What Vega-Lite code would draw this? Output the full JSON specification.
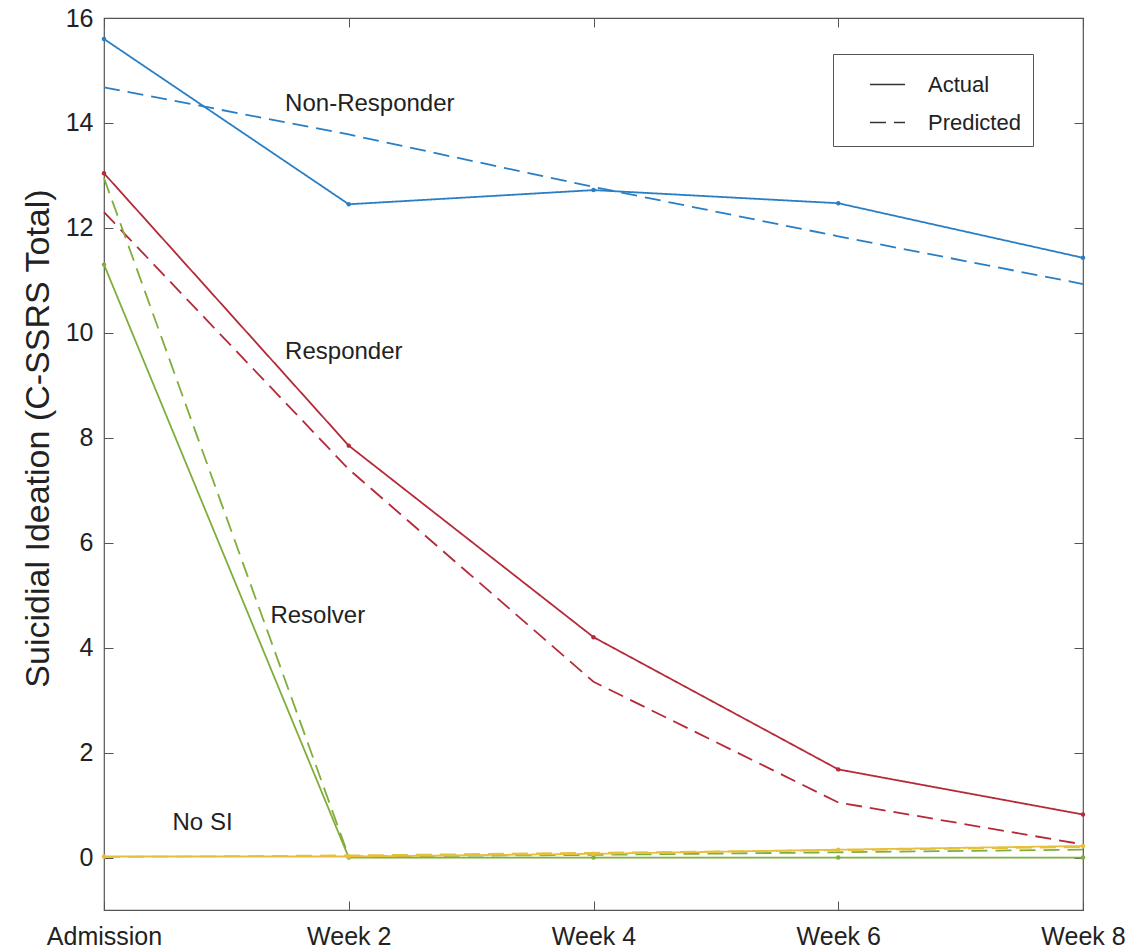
{
  "$schema": "https://vega.github.io/schema/vega-lite/v6.json",
  "width": 979,
  "height": 892,
  "autosize": {"type": "none"},
  "padding": {"left": 104, "top": 18, "right": 62, "bottom": 41},
  "background": "white",
  "config": {
    "font": "Liberation Sans",
    "view": {"stroke": "#555", "strokeWidth": 1.2},
    "axis": {"grid": false, "domain": false, "tickColor": "#555", "labelColor": "#222", "titleColor": "#222", "labelFont": "Liberation Sans", "titleFont": "Liberation Sans", "titleFontWeight": "normal"}
  },
  "datasets": {
    "series": [
      {"week": 0, "group": "Non-Responder", "type": "Actual", "value": 15.6},
      {"week": 2, "group": "Non-Responder", "type": "Actual", "value": 12.45},
      {"week": 4, "group": "Non-Responder", "type": "Actual", "value": 12.72},
      {"week": 6, "group": "Non-Responder", "type": "Actual", "value": 12.47},
      {"week": 8, "group": "Non-Responder", "type": "Actual", "value": 11.43},
      {"week": 0, "group": "Non-Responder", "type": "Predicted", "value": 14.68},
      {"week": 2, "group": "Non-Responder", "type": "Predicted", "value": 13.78},
      {"week": 4, "group": "Non-Responder", "type": "Predicted", "value": 12.78},
      {"week": 6, "group": "Non-Responder", "type": "Predicted", "value": 11.84},
      {"week": 8, "group": "Non-Responder", "type": "Predicted", "value": 10.93},
      {"week": 0, "group": "Responder", "type": "Actual", "value": 13.04},
      {"week": 2, "group": "Responder", "type": "Actual", "value": 7.85},
      {"week": 4, "group": "Responder", "type": "Actual", "value": 4.2},
      {"week": 6, "group": "Responder", "type": "Actual", "value": 1.68},
      {"week": 8, "group": "Responder", "type": "Actual", "value": 0.82},
      {"week": 0, "group": "Responder", "type": "Predicted", "value": 12.3},
      {"week": 2, "group": "Responder", "type": "Predicted", "value": 7.4},
      {"week": 4, "group": "Responder", "type": "Predicted", "value": 3.35},
      {"week": 6, "group": "Responder", "type": "Predicted", "value": 1.05},
      {"week": 8, "group": "Responder", "type": "Predicted", "value": 0.25},
      {"week": 0, "group": "Resolver", "type": "Actual", "value": 11.3},
      {"week": 2, "group": "Resolver", "type": "Actual", "value": 0},
      {"week": 4, "group": "Resolver", "type": "Actual", "value": 0},
      {"week": 6, "group": "Resolver", "type": "Actual", "value": 0},
      {"week": 8, "group": "Resolver", "type": "Actual", "value": 0},
      {"week": 0, "group": "Resolver", "type": "Predicted", "value": 12.95},
      {"week": 2, "group": "Resolver", "type": "Predicted", "value": 0.02},
      {"week": 4, "group": "Resolver", "type": "Predicted", "value": 0.05},
      {"week": 6, "group": "Resolver", "type": "Predicted", "value": 0.1},
      {"week": 8, "group": "Resolver", "type": "Predicted", "value": 0.15},
      {"week": 0, "group": "No SI", "type": "Actual", "value": 0.02},
      {"week": 2, "group": "No SI", "type": "Actual", "value": 0.02},
      {"week": 4, "group": "No SI", "type": "Actual", "value": 0.07},
      {"week": 6, "group": "No SI", "type": "Actual", "value": 0.15},
      {"week": 8, "group": "No SI", "type": "Actual", "value": 0.22},
      {"week": 0, "group": "No SI", "type": "Predicted", "value": 0.01},
      {"week": 2, "group": "No SI", "type": "Predicted", "value": 0.04},
      {"week": 4, "group": "No SI", "type": "Predicted", "value": 0.09},
      {"week": 6, "group": "No SI", "type": "Predicted", "value": 0.14},
      {"week": 8, "group": "No SI", "type": "Predicted", "value": 0.2}
    ],
    "labels": [
      {"week": 1.48, "value": 14.37, "label": "Non-Responder"},
      {"week": 1.48, "value": 9.64, "label": "Responder"},
      {"week": 1.36, "value": 4.6, "label": "Resolver"},
      {"week": 0.56, "value": 0.65, "label": "No SI"}
    ]
  },
  "resolve": {"axis": {"x": "independent", "y": "independent"}},
  "layer": [
    {
      "data": {"name": "series"},
      "mark": {"type": "line", "strokeWidth": 1.8},
      "encoding": {
        "x": {"field": "week", "type": "quantitative", "scale": {"domain": [0, 8], "nice": false, "zero": false},
          "axis": {"orient": "bottom", "values": [0, 2, 4, 6, 8], "labelExpr": "datum.value == 0 ? 'Admission' : 'Week ' + datum.value", "labelFontSize": 25, "tickSize": -9, "labelPadding": 23, "labelFlush": false, "labelBound": false, "labelOverlap": false, "title": null}},
        "y": {"field": "value", "type": "quantitative", "scale": {"domain": [-1, 16], "nice": false, "zero": false},
          "axis": {"orient": "left", "values": [0, 2, 4, 6, 8, 10, 12, 14, 16], "labelFontSize": 25, "tickSize": -9, "labelPadding": 20, "title": "Suicidial Ideation (C-SSRS Total)", "titleFontSize": 34, "titlePadding": 10, "titleY": 420}},
        "color": {"field": "group", "type": "nominal", "scale": {"domain": ["Non-Responder", "Responder", "Resolver", "No SI"], "range": ["#2a7fc4", "#b52a38", "#7fae3a", "#e8bf3a"]}, "legend": null},
        "strokeDash": {"field": "type", "type": "nominal", "scale": {"domain": ["Actual", "Predicted"], "range": [[1, 0], [16, 8]]},
          "legend": {"orient": "none", "legendX": 729, "legendY": 36, "title": null, "symbolType": "stroke", "symbolStrokeColor": "#333", "symbolStrokeWidth": 1.3, "symbolSize": 1225, "symbolOffset": 24, "labelFontSize": 22, "labelColor": "#222", "labelOffset": 22, "rowPadding": 8, "padding": 12, "strokeColor": "#555", "fillColor": "white"}}
      }
    },
    {
      "data": {"name": "series"},
      "transform": [{"filter": "datum.type == 'Actual'"}],
      "mark": {"type": "point", "filled": true, "size": 20, "opacity": 1},
      "encoding": {
        "x": {"field": "week", "type": "quantitative", "axis": null},
        "y": {"field": "value", "type": "quantitative", "axis": null},
        "color": {"field": "group", "type": "nominal", "legend": null}
      }
    },
    {
      "data": {"name": "labels"},
      "mark": {"type": "text", "align": "left", "baseline": "middle", "fontSize": 24, "color": "#222", "font": "Liberation Sans"},
      "encoding": {
        "x": {"field": "week", "type": "quantitative", "axis": {"orient": "top", "values": [0, 2, 4, 6, 8], "labels": false, "tickSize": -9, "title": null}},
        "y": {"field": "value", "type": "quantitative", "axis": {"orient": "right", "values": [0, 2, 4, 6, 8, 10, 12, 14, 16], "labels": false, "tickSize": -9, "title": null}},
        "text": {"field": "label", "type": "nominal"}
      }
    }
  ]
}
